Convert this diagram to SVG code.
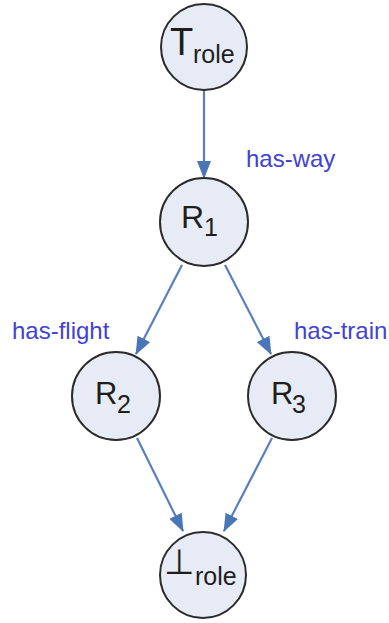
<svg xmlns="http://www.w3.org/2000/svg" width="389" height="623" viewBox="0 0 389 623">
<style>
.node circle{fill:#E7EBF5;stroke:#2b2b2b;stroke-width:2}
.lbl{font-family:"Liberation Sans",Arial,sans-serif;fill:#1e1e1e}
.edge{stroke:#5A7FBE;stroke-width:2.2;fill:none;marker-end:url(#ah)}
.el{font-family:"Liberation Sans",Arial,sans-serif;font-size:24px;fill:#4242D4}
</style>
<defs>
<marker id="ah" viewBox="0 0 18 14" refX="17" refY="7" markerWidth="18" markerHeight="14" markerUnits="userSpaceOnUse" orient="auto">
<path d="M0,0 L18,7 L0,14 Z" fill="#4A76B8"/>
</marker>
</defs>
<rect width="389" height="623" fill="#fff"/>
<g id="connectors">
<line class="edge" x1="204" y1="90" x2="204" y2="178"/>
<line class="edge" x1="182" y1="265" x2="136" y2="354"/>
<line class="edge" x1="225" y1="265" x2="271" y2="354"/>
<line class="edge" x1="137" y1="438" x2="183" y2="531"/>
<line class="edge" x1="272" y1="438" x2="224" y2="531"/>
<text class="el" x="246" y="167">has-way</text>
<text class="el" x="12" y="339">has-flight</text>
<text class="el" x="294" y="339">has-train</text>
</g>
<g id="top" class="node">
<circle cx="204" cy="47" r="43"/>
<text class="lbl" x="170" y="55" font-size="38">T</text>
<text class="lbl" x="193" y="63" font-size="25">role</text>
</g>
<g id="R1" class="node">
<circle cx="204" cy="222" r="44"/>
<text class="lbl" x="181" y="228" font-size="32">R</text>
<text class="lbl" x="204" y="236" font-size="25">1</text>
</g>
<g id="R2" class="node">
<circle cx="116" cy="396" r="44"/>
<text class="lbl" x="95" y="404" font-size="31">R</text>
<text class="lbl" x="117" y="413" font-size="25">2</text>
</g>
<g id="R3" class="node">
<circle cx="292" cy="396" r="44"/>
<text class="lbl" x="271" y="404" font-size="31">R</text>
<text class="lbl" x="292" y="413" font-size="25">3</text>
</g>
<g id="bottom" class="node">
<circle cx="203" cy="575" r="43"/>
<text class="lbl" x="164" y="574" font-size="35" font-family="'DejaVu Sans',sans-serif">⊥</text>
<text class="lbl" x="195" y="585" font-size="25">role</text>
</g>
</svg>
